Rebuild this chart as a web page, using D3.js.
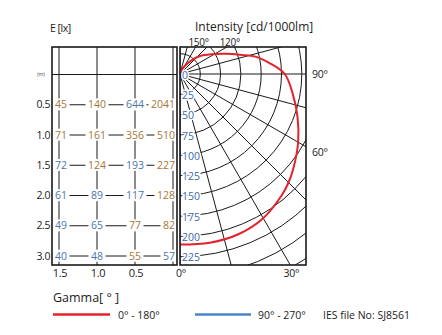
<!DOCTYPE html>
<html><head><meta charset="utf-8">
<script src="https://cdn.jsdelivr.net/npm/d3@7"></script>
<style>
html,body{margin:0;padding:0;background:#fff;}
svg{display:block;font-family:"Open Sans",sans-serif;}
</style></head><body>
<svg id="chart" width="442" height="335"></svg>
<script>
// Illuminance grid: distance below the lamp (m) × lateral offset (m)
const rowDistances = [0.5, 1.0, 1.5, 2.0, 2.5, 3.0];
const columnOffsets = [1.5, 1.0, 0.5, 0];
const lux05 = [45, 140, 644, 2041];
const lux10 = [71, 161, 356, 510];
const lux15 = [72, 124, 193, 227];
const lux20 = [61, 89, 117, 128];
const lux25 = [49, 65, 77, 82];
const lux30 = [40, 48, 55, 57];
const offsetTicks = [1.5, 1.0, 0.5];

// Luminous intensity (cd/1000lm) in the C0–C180 plane
const gammaDeg    = [0, 10, 20, 30, 40, 45, 50, 60, 70, 80, 90, 97, 103, 107, 114, 122, 132, 140, 150, 160, 170, 180];
const intensityC0 = [210, 211, 210, 205, 195, 189, 182, 168, 154, 141, 129, 111, 95, 80, 61, 46, 33, 22, 11, 5, 2, 0];
const ringValues  = [0, 25, 50, 75, 100, 125, 150, 175, 200, 225];
const spokeAngles = [0, 15, 30, 45, 60, 75, 90, 105, 120, 135, 150, 165, 180];
const gammaTicks  = [0, 30, 60, 90, 120, 150];

const luxRows = [lux05, lux10, lux15, lux20, lux25, lux30];

const svg = d3.select("#chart");
const ink = "#1a1a1a";
const toneColor = { o: "#a87538", b: "#4a76ad" };
const cellTones = ["oobo", "oooo", "bobo", "bbbo", "bboo", "bbob"];

svg.append("rect").attr("width", 442).attr("height", 335).attr("fill", "#fff");

// ---------- left panel: illuminance grid ----------
const L = { x0: 52, x1: 177, y0: 47, y1: 265 };
const xOff = d3.scaleLinear().domain([0, 1.5]).range([173, 59]);
const yDist = d3.scaleLinear().domain([0, 3]).range([74.5, 256]);

const left = svg.append("g");
// column lines
left.selectAll("line.col").data(columnOffsets).join("line")
  .attr("x1", d => xOff(d)).attr("x2", d => xOff(d))
  .attr("y1", L.y0).attr("y2", L.y1)
  .attr("stroke", ink).attr("stroke-width", 1);
// row lines
left.selectAll("line.row").data(rowDistances).join("line")
  .attr("x1", xOff(1.5)).attr("x2", xOff(0))
  .attr("y1", d => yDist(d)).attr("y2", d => yDist(d))
  .attr("stroke", ink).attr("stroke-width", 1);
// origin line
svg.append("line").attr("x1", L.x0).attr("x2", L.x1)
  .attr("y1", yDist(0)).attr("y2", yDist(0))
  .attr("stroke", ink).attr("stroke-width", 1);

// cell values with white backing
const cells = [];
luxRows.forEach((row, i) => row.forEach((v, j) => cells.push({ d: rowDistances[i], o: columnOffsets[j], v, i, j })));
const cellG = left.selectAll("g.cell").data(cells).join("g");
cellG.append("rect").attr("fill", "#fff");
cellG.append("text")
  .attr("x", c => c.j === 0 ? L.x0 + 3 : c.j === 3 ? L.x1 - 2 : xOff(c.o))
  .attr("y", c => yDist(c.d))
  .attr("dy", "0.35em")
  .attr("text-anchor", c => c.j === 0 ? "start" : c.j === 3 ? "end" : "middle")
  .attr("font-size", 10.5)
  .attr("fill", c => toneColor[cellTones[c.i][c.j]])
  .text(c => c.v);
cellG.each(function () {
  const t = d3.select(this).select("text").node().getBBox();
  d3.select(this).select("rect")
    .attr("x", t.x - 2.5).attr("y", t.y + 1).attr("width", t.width + 5).attr("height", t.height - 2);
});

// distance labels
svg.selectAll("text.dist").data(rowDistances).join("text")
  .attr("x", 50).attr("y", d => yDist(d)).attr("dy", "0.35em")
  .attr("text-anchor", "end").attr("font-size", 10.5).attr("fill", "#222")
  .attr("letter-spacing", -0.4)
  .text(d => d.toFixed(1));
svg.append("text").attr("x", 41).attr("y", yDist(0)).attr("dy", "0.35em")
  .attr("text-anchor", "middle").attr("font-size", 5).attr("fill", "#444").text("(m)");
// offset ticks
svg.selectAll("text.off").data(offsetTicks).join("text")
  .attr("x", d => xOff(d) + 1).attr("y", 277)
  .attr("text-anchor", "middle").attr("font-size", 11).attr("fill", "#222")
  .attr("letter-spacing", -0.4)
  .text(d => d.toFixed(1));
svg.append("text").attr("x", 50).attr("y", 32).attr("font-size", 10.5).attr("fill", "#222")
  .attr("letter-spacing", -0.5).text("E [lx]");

svg.append("rect").attr("x", L.x0).attr("y", L.y0)
  .attr("width", L.x1 - L.x0).attr("height", L.y1 - L.y0)
  .attr("fill", "none").attr("stroke", ink).attr("stroke-width", 1.6);

// ---------- right panel: polar intensity diagram ----------
const P = { x0: 180, x1: 306, y0: 47, y1: 265 };
const cx = 180, cy = 74;
const rScale = d3.scaleLinear().domain([0, 25]).range([0, 20.3]);
const rad = a => a * Math.PI / 180;

svg.append("clipPath").attr("id", "polarClip")
  .append("rect").attr("x", P.x0).attr("y", P.y0)
  .attr("width", P.x1 - P.x0).attr("height", P.y1 - P.y0);

const polar = svg.append("g").attr("clip-path", "url(#polarClip)");
const rings = d3.range(1, 13).map(k => k * 25);
polar.selectAll("circle").data(rings).join("circle")
  .attr("cx", cx).attr("cy", cy).attr("r", d => rScale(d))
  .attr("fill", "none").attr("stroke", ink).attr("stroke-width", 1);
polar.selectAll("line").data(spokeAngles).join("line")
  .attr("x1", cx).attr("y1", cy)
  .attr("x2", a => cx + 400 * Math.sin(rad(a)))
  .attr("y2", a => cy + 400 * Math.cos(rad(a)))
  .attr("stroke", ink).attr("stroke-width", 1);

// ring value labels
svg.selectAll("text.ring").data(ringValues).join("text")
  .attr("x", 182).attr("y", d => cy + rScale(d) + 1).attr("dy", "0.35em")
  .attr("font-size", 10.5).attr("fill", "#3d69ad")
  .attr("stroke", "#fff").attr("stroke-width", 3).attr("paint-order", "stroke")
  .text(d => d);

// intensity curve
const curvePts = gammaDeg.map((g, i) => ({ g, v: intensityC0[i] }));
const radial = d3.lineRadial()
  .angle(d => Math.PI - rad(d.g))
  .radius(d => rScale(d.v))
  .curve(d3.curveCatmullRom.alpha(0.5));
svg.append("path")
  .attr("transform", `translate(${cx},${cy})`)
  .attr("d", radial(curvePts))
  .attr("fill", "none").attr("stroke", "#e3232b").attr("stroke-width", 2);

svg.append("rect").attr("x", P.x0).attr("y", P.y0)
  .attr("width", P.x1 - P.x0).attr("height", P.y1 - P.y0)
  .attr("fill", "none").attr("stroke", ink).attr("stroke-width", 1.6);

// gamma labels where each spoke leaves the frame
gammaTicks.forEach(a => {
  const s = Math.sin(rad(a)), c = Math.cos(rad(a));
  let x, y, anchor = "middle", size = 10.5;
  if (c > 0 && (P.y1 - cy) * s / c <= P.x1 - cx) {        // bottom edge
    x = cx + (P.y1 - cy) * s / c + 1; y = 277;
  } else if (c < 0 && (cy - P.y0) * s / -c <= P.x1 - cx) { // top edge
    x = cx + (cy - P.y0) * s / -c + 3; y = 45.5; size = 10;
  } else {                                                 // right edge
    x = 312; y = cy + (P.x1 - cx) * c / s + (a === 90 ? 0 : 5) + 4; anchor = "start";
  }
  svg.append("text").attr("x", x).attr("y", y)
    .attr("text-anchor", anchor).attr("font-size", size).attr("fill", "#222")
    .attr("letter-spacing", -0.3)
    .text(a + "°");
});
svg.append("text").attr("x", 195).attr("y", 31).attr("font-size", 12).attr("fill", "#222")
  .text("Intensity [cd/1000lm]");

// ---------- legend ----------
svg.append("text").attr("x", 53).attr("y", 302).attr("font-size", 12.5).attr("fill", "#222")
  .text("Gamma[ ° ]");
svg.append("line").attr("x1", 53).attr("x2", 110).attr("y1", 314.5).attr("y2", 314.5)
  .attr("stroke", "#e3232b").attr("stroke-width", 2.5);
svg.append("text").attr("x", 118).attr("y", 318.5).attr("font-size", 10.5).attr("fill", "#222")
  .text("0° - 180°");
svg.append("line").attr("x1", 195).attr("x2", 251).attr("y1", 314.5).attr("y2", 314.5)
  .attr("stroke", "#4a86c6").attr("stroke-width", 2.5);
svg.append("text").attr("x", 258).attr("y", 318.5).attr("font-size", 10.5).attr("fill", "#222")
  .text("90° - 270°");
svg.append("text").attr("x", 323).attr("y", 318.5).attr("font-size", 10.5).attr("fill", "#222")
  .text("IES file No: SJ8561");
</script>
</body></html>
